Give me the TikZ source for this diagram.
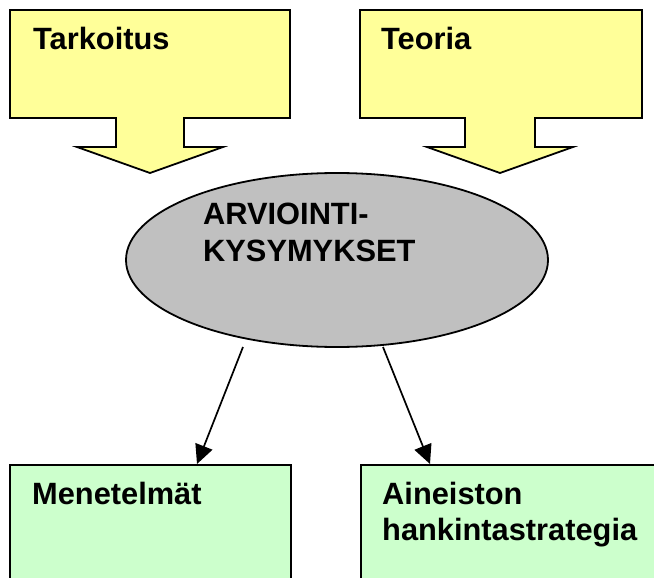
\documentclass[tikz,border=0pt]{standalone}
\usepackage{fontspec}
\setmainfont{Liberation Sans}[BoldFont={Liberation Sans Bold}]
\usetikzlibrary{arrows.meta,shapes.geometric}
\definecolor{calloutyellow}{HTML}{FFFF99}
\definecolor{boxgreen}{HTML}{CCFFCC}
\definecolor{ovalgray}{HTML}{C0C0C0}
\tikzset{
  callout/.style={draw=black,fill=calloutyellow,line width=1.8pt,line join=miter},
  resultbox/.style={draw=black,fill=boxgreen,line width=1.8pt},
  heading/.style={font=\fontsize{30.8}{36}\selectfont\bfseries,anchor=base west,inner sep=0pt},
  flow/.style={line width=1.7pt,-{Triangle[length=19pt,width=18pt]}}
}
\begin{document}
\begin{tikzpicture}[x=1pt,y=-1pt]
\useasboundingbox (0,0) rectangle (654,578);
\clip (0,0) rectangle (654,578);

% down-arrow callouts feeding the central question
\draw[callout] (10,10) -- (290,10) -- (290,118) -- (184,118) -- (184,147)
  -- (223,147) -- (150,173) -- (77,147) -- (116,147) -- (116,118) -- (10,118) -- cycle;
\draw[callout] (360,10) -- (642,10) -- (642,118) -- (535,118) -- (535,147)
  -- (573,147) -- (500,173) -- (427,147) -- (465,147) -- (465,118) -- (360,118) -- cycle;
\node[heading] (tarkoitus) at (33,50) {Tarkoitus};
\node[heading] (teoria) at (381,50) {Teoria};

% central oval
\node[ellipse,draw=black,fill=ovalgray,line width=1.8pt,
      minimum width=422pt,minimum height=174pt,inner sep=0pt] (kysymykset) at (337,260) {};
\node[heading] (kys1) at (203,224) {ARVIOINTI-};
\node[heading] (kys2) at (203,261) {KYSYMYKSET};

% result boxes, running off the lower edge
\node[resultbox,anchor=north west,minimum width=281pt,minimum height=130pt,inner sep=0pt] (menetelmat) at (9,464) {};
\node[resultbox,anchor=north west,minimum width=310pt,minimum height=130pt,inner sep=0pt] (aineisto) at (360,464) {};
\node[heading] (menlbl) at (32,504) {Menetelmät};
\node[heading] (ainlbl1) at (382,504) {Aineiston};
\node[heading] (ainlbl2) at (382,540) {hankintastrategia};

% connectors from the oval to the boxes
\coordinate (s1) at (243,347);
\coordinate (s2) at (383,347);
\draw[flow] (s1) -- (menetelmat.north west -| 197,0);
\draw[flow] (s2) -- (aineisto.north west -| 430,0);
\end{tikzpicture}
\end{document}
